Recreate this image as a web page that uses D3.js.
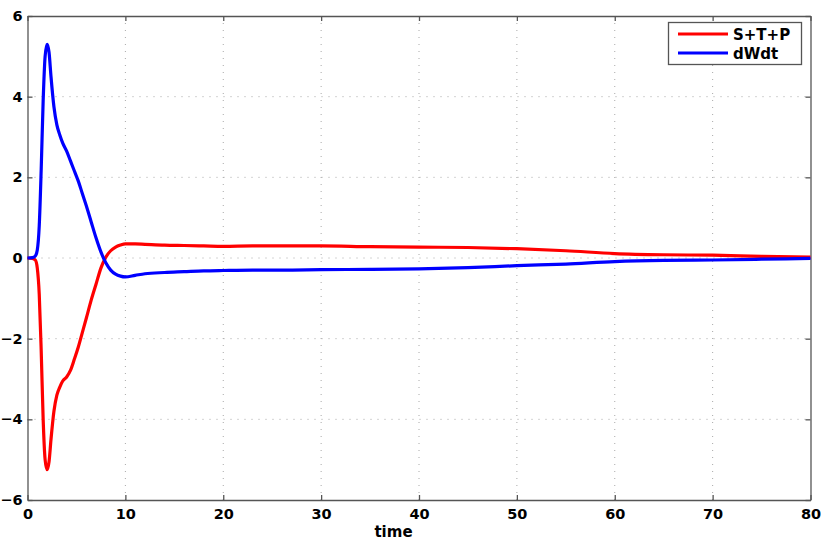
<!DOCTYPE html>
<html>
<head>
<meta charset="utf-8">
<script src="https://cdn.jsdelivr.net/npm/d3@7"></script>
<style>
  html, body { margin: 0; padding: 0; background: #fff; }
  svg { display: block; }
  text { font-family: "DejaVu Sans", Arial, Helvetica, sans-serif; font-weight: bold; }
</style>
</head>
<body>
<svg id="chart" width="828" height="544"></svg>
<script>
const timeVals = [0, 0.5, 0.8, 1.0, 1.2, 1.4, 1.6, 1.8, 2.0, 2.2, 2.4, 2.7, 3.0, 3.3, 3.6, 4.0, 4.4, 4.8, 5.2, 5.6, 6.0, 6.5, 7.0, 7.5, 8.0, 8.5, 9.0, 9.5, 10, 11, 12, 14, 16, 18, 20, 23, 26, 30, 35, 40, 45, 50, 55, 60, 65, 70, 75, 80];
const stpVals = [0, -0.01, -0.05, -0.25, -0.9, -2.3, -4.0, -5.0, -5.25, -5.05, -4.5, -3.8, -3.4, -3.2, -3.05, -2.95, -2.78, -2.5, -2.2, -1.85, -1.5, -1.05, -0.65, -0.25, 0.02, 0.18, 0.27, 0.32, 0.35, 0.35, 0.34, 0.32, 0.31, 0.3, 0.29, 0.3, 0.3, 0.3, 0.28, 0.27, 0.26, 0.23, 0.18, 0.11, 0.08, 0.07, 0.04, 0.02];
const dwdtVals = [0, 0.01, 0.05, 0.2, 0.8, 2.2, 3.9, 5.0, 5.3, 5.1, 4.5, 3.75, 3.3, 3.05, 2.85, 2.65, 2.4, 2.15, 1.9, 1.6, 1.3, 0.9, 0.5, 0.15, -0.12, -0.3, -0.4, -0.45, -0.47, -0.43, -0.39, -0.36, -0.34, -0.32, -0.31, -0.3, -0.3, -0.29, -0.28, -0.27, -0.24, -0.19, -0.15, -0.09, -0.06, -0.05, -0.03, -0.01];
const xTicks = [0, 10, 20, 30, 40, 50, 60, 70, 80];
const yTicks = [-6, -4, -2, 0, 2, 4, 6];
const seriesNames = ["S+T+P", "dWdt"];
const seriesColors = ["#ff0000", "#0000ff"];

const svg = d3.select("#chart");
const L = 27.5, R = 810.5, T = 16, B = 500;
const x = d3.scaleLinear().domain([0, 80]).range([L, R]);
const y = d3.scaleLinear().domain([-6, 6]).range([B, T]);

// grid
const grid = svg.append("g").attr("stroke", "#a8a8a8").attr("stroke-width", 1).attr("stroke-dasharray", "1,6");
xTicks.slice(1, -1).forEach(t => grid.append("line").attr("x1", x(t)).attr("x2", x(t)).attr("y1", T).attr("y2", B));
yTicks.slice(1, -1).forEach(t => grid.append("line").attr("x1", L).attr("x2", R).attr("y1", y(t)).attr("y2", y(t)));

const fmt = d => d < 0 ? "\u2212" + Math.abs(d) : String(d);

// axes (inward ticks, MATLAB style)
const xb = svg.append("g").attr("transform", `translate(0,${B})`)
  .call(d3.axisBottom(x).tickValues(xTicks).tickSizeInner(-5).tickSizeOuter(0).tickPadding(9).tickFormat(fmt));
const xt = svg.append("g").attr("transform", `translate(0,${T})`)
  .call(d3.axisTop(x).tickValues(xTicks).tickSizeInner(-5).tickSizeOuter(0).tickFormat(""));
const yl = svg.append("g").attr("transform", `translate(${L},0)`)
  .call(d3.axisLeft(y).tickValues(yTicks).tickSizeInner(-5).tickSizeOuter(0).tickPadding(5).tickFormat(fmt));
const yr = svg.append("g").attr("transform", `translate(${R},0)`)
  .call(d3.axisRight(y).tickValues(yTicks).tickSizeInner(-5).tickSizeOuter(0).tickFormat(""));
[xb, xt, yl, yr].forEach(g => {
  g.selectAll("path.domain").attr("stroke", "#555").attr("stroke-width", 1.3);
  g.selectAll(".tick line").attr("stroke", "#555").attr("stroke-width", 1.3);
  g.selectAll(".tick text").attr("fill", "#000").attr("font-size", 14.5).attr("font-weight", "bold")
    .attr("font-family", "'DejaVu Sans', Arial, sans-serif");
});
xb.selectAll(".tick text").attr("dy", "0.71em");

// lines
const data = timeVals.map((t, i) => ({t, s: stpVals[i], d: dwdtVals[i]}));
const lineS = d3.line().x(d => x(d.t)).y(d => y(d.s)).curve(d3.curveMonotoneX);
const lineD = d3.line().x(d => x(d.t)).y(d => y(d.d)).curve(d3.curveMonotoneX);
svg.append("path").datum(data).attr("d", lineS).attr("fill", "none").attr("stroke", seriesColors[0]).attr("stroke-width", 3.2).attr("stroke-linejoin", "round");
svg.append("path").datum(data).attr("d", lineD).attr("fill", "none").attr("stroke", seriesColors[1]).attr("stroke-width", 3.2).attr("stroke-linejoin", "round");

// x label
svg.append("text").attr("x", 393.5).attr("y", 537).attr("text-anchor", "middle").attr("font-size", 15).text("time");

// legend
const lg = svg.append("g");
lg.append("rect").attr("x", 668.5).attr("y", 22.5).attr("width", 133).attr("height", 42).attr("fill", "#fff").attr("stroke", "#555").attr("stroke-width", 1.3);
seriesNames.forEach((n, i) => {
  const yy = 34 + i * 19;
  lg.append("line").attr("x1", 678).attr("x2", 728).attr("y1", yy).attr("y2", yy).attr("stroke", seriesColors[i]).attr("stroke-width", 3);
  lg.append("text").attr("x", 733).attr("y", yy + 5.5).attr("font-size", 15).attr("fill", "#000").text(n);
});
</script>
</body>
</html>
